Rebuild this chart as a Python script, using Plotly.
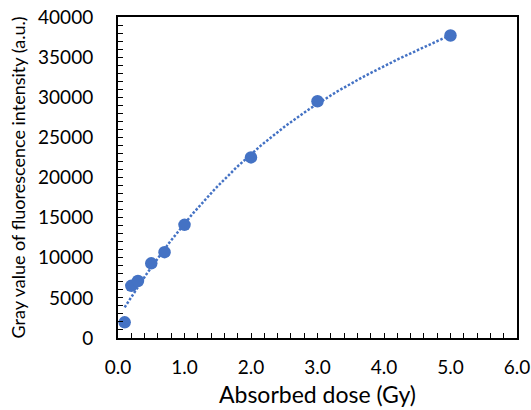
import numpy as np
import plotly.graph_objects as go

dose = [0.1, 0.2, 0.3, 0.5, 0.7, 1.0, 2.0, 3.0, 5.0]
gray = [1950, 6500, 7100, 9300, 10700, 14100, 22500, 29500, 37700]

x_ticks = [0, 1, 2, 3, 4, 5, 6]
x_tick_labels = ["0.0", "1.0", "2.0", "3.0", "4.0", "5.0", "6.0"]
y_ticks = [0, 5000, 10000, 15000, 20000, 25000, 30000, 35000, 40000]

# polynomial trendline (order 3) fitted to the data points
xf = np.linspace(min(dose), max(dose), 200)
yf = np.polyval(np.polyfit(dose, gray, 3), xf)

blue = "#4472C4"
font = "Lato, Open Sans, sans-serif"

fig = go.Figure()
fig.add_trace(go.Scatter(x=xf, y=yf, mode="lines",
                         line=dict(color=blue, width=2.5, dash="2.5px,1.8px"),
                         hoverinfo="skip", showlegend=False))
fig.add_trace(go.Scatter(x=dose, y=gray, mode="markers",
                         marker=dict(color=blue, size=12.5),
                         showlegend=False))

axis_common = dict(showgrid=False, zeroline=False, showline=True, automargin=False,
                   linecolor="black", linewidth=2, mirror=True,
                   ticks="inside", ticklen=5, tickcolor="black", tickwidth=1.3,
                   tickfont=dict(family=font, size=19, color="black"))

fig.update_xaxes(range=[0, 6], tickvals=x_ticks, ticktext=x_tick_labels,
                 minor=dict(dtick=0.2, ticks="inside", ticklen=5, tickcolor="black", tickwidth=1.3),
                 title=dict(text="Absorbed dose (Gy)", font=dict(family=font, size=23, color="black"),
                            standoff=10),
                 ticklabelstandoff=11,
                 **axis_common)
fig.update_yaxes(range=[0, 40000], tickvals=y_ticks, tickformat="d",
                 minor=dict(dtick=1000, ticks="inside", ticklen=5, tickcolor="black", tickwidth=1.3),
                 title=dict(text="Gray value of fluorescence intensity (a.u.)",
                            font=dict(family=font, size=18, color="black"), standoff=8),
                 ticklabelstandoff=19,
                 **axis_common)

fig.update_layout(width=531, height=410,
                  margin=dict(l=118, r=14, t=17, b=72),
                  plot_bgcolor="white", paper_bgcolor="white")

fig.write_html("out.html", config={"displayModeBar": False},
               post_script="document.body.style.margin='0';")
